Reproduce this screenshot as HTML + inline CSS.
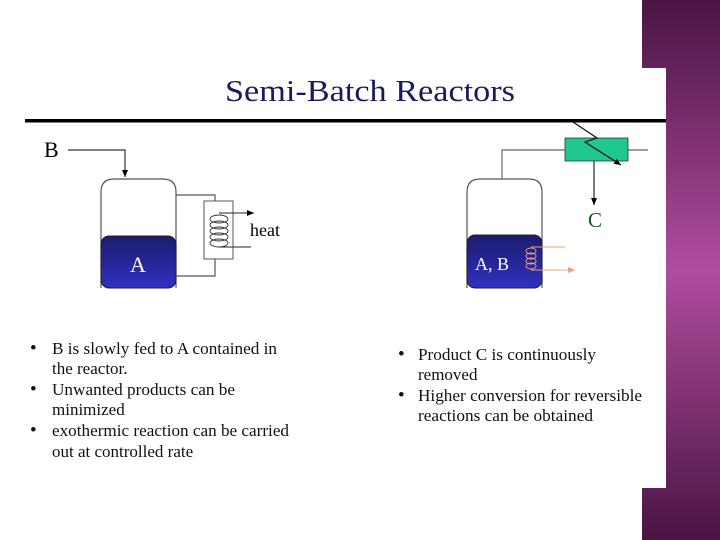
<!DOCTYPE html>
<html><head><style>
html,body{margin:0;padding:0;width:720px;height:540px;overflow:hidden;background:#fff}
svg{display:block}
text{font-family:"Liberation Serif",serif}
</style></head><body>
<svg width="720" height="540" viewBox="0 0 720 540" xmlns="http://www.w3.org/2000/svg">
<defs>
<linearGradient id="pg" x1="0" y1="0" x2="0" y2="1">
<stop offset="0" stop-color="#4a1443"/><stop offset="0.5" stop-color="#b04c9f"/><stop offset="1" stop-color="#4a1443"/>
</linearGradient>
<linearGradient id="bl" x1="0" y1="0" x2="0" y2="1">
<stop offset="0" stop-color="#1c1c6e"/><stop offset="1" stop-color="#3030c0"/>
</linearGradient>
<marker id="ar" markerWidth="8" markerHeight="8" refX="7" refY="4" orient="auto" markerUnits="userSpaceOnUse">
<path d="M0,1 L7,4 L0,7 z" fill="#000"/></marker>
<marker id="ao" markerWidth="8" markerHeight="8" refX="7" refY="4" orient="auto" markerUnits="userSpaceOnUse">
<path d="M0,1 L7,4 L0,7 z" fill="#e8a080"/></marker>
</defs>
<rect x="642" y="0" width="78" height="540" fill="url(#pg)"/>
<rect x="0" y="68" width="666" height="420" fill="#fff"/>
<rect x="0" y="0" width="642" height="68" fill="#fff"/>
<rect x="0" y="488" width="642" height="52" fill="#fff"/>
<text x="225" y="101" font-size="31" fill="#1a1a5e" textLength="290" lengthAdjust="spacingAndGlyphs">Semi-Batch Reactors</text>
<rect x="25" y="119" width="641" height="3.5" fill="#000"/>

<text x="44" y="157" font-size="22" fill="#000">B</text>
<path d="M68,150 H125 V177" fill="none" stroke="#333" stroke-width="1.2" marker-end="url(#ar)"/>
<path d="M101,288 V192 Q101,179 114,179 H163 Q176,179 176,192 V288" fill="none" stroke="#555" stroke-width="1.2"/>
<rect x="101" y="236" width="75" height="52" rx="8" fill="url(#bl)" stroke="#222" stroke-width="1"/>
<text x="130" y="272" font-size="22" fill="#fff">A</text>
<path d="M176,195 H215 V201 M176,276 H215 V259" fill="none" stroke="#555" stroke-width="1.2"/>
<rect x="204" y="201" width="29" height="58" fill="#fff" stroke="#555" stroke-width="1"/>
<g fill="none" stroke="#333" stroke-width="0.9">
<ellipse cx="219" cy="219" rx="9" ry="4"/><ellipse cx="219" cy="225" rx="9" ry="4"/>
<ellipse cx="219" cy="231" rx="9" ry="4"/><ellipse cx="219" cy="237" rx="9" ry="4"/>
<ellipse cx="219" cy="243" rx="9" ry="4"/></g>
<path d="M219,213 H254" stroke="#222" stroke-width="1" marker-end="url(#ar)"/>
<path d="M219,247 H251" stroke="#222" stroke-width="1"/>
<text x="250" y="236" font-size="18" fill="#000">heat</text>

<path d="M467,288 V192 Q467,179 480,179 H529 Q542,179 542,192 V288" fill="none" stroke="#555" stroke-width="1.2"/>
<rect x="467" y="235" width="75" height="53" rx="8" fill="url(#bl)" stroke="#222" stroke-width="1"/>
<text x="475" y="270" font-size="18" fill="#fff">A, B</text>
<g fill="none" stroke="#e8a080" stroke-width="0.9">
<ellipse cx="531" cy="251" rx="5" ry="3"/><ellipse cx="531" cy="256" rx="5" ry="3"/>
<ellipse cx="531" cy="261" rx="5" ry="3"/><ellipse cx="531" cy="266" rx="5" ry="3"/></g>
<path d="M531,247 H565" stroke="#e8a080" stroke-width="1"/>
<path d="M531,270 H575" stroke="#e8a080" stroke-width="1" marker-end="url(#ao)"/>
<path d="M502,179 V150 H565 M628,150 H648" fill="none" stroke="#666" stroke-width="1.2"/>
<rect x="565" y="138" width="63" height="23" fill="#20c890" stroke="#333" stroke-width="0.8"/>
<path d="M573,122 L597,138 L585,142 L621,165" fill="none" stroke="#111" stroke-width="1.2" marker-end="url(#ar)"/>
<path d="M594,161 V205" stroke="#333" stroke-width="1.3" marker-end="url(#ar)"/>
<text x="588" y="227" font-size="21" fill="#1a5a1a">C</text>

<g font-size="17" fill="#111">
<text x="30" y="354" font-size="19">•</text><text x="52" y="354" textLength="225" lengthAdjust="spacingAndGlyphs">B is slowly fed to A contained in</text>
<text x="52" y="374">the reactor.</text>
<text x="30" y="395" font-size="19">•</text><text x="52" y="395" textLength="183" lengthAdjust="spacingAndGlyphs">Unwanted products can be</text>
<text x="52" y="415">minimized</text>
<text x="30" y="436" font-size="19">•</text><text x="52" y="436" textLength="237" lengthAdjust="spacingAndGlyphs">exothermic reaction can be carried</text>
<text x="52" y="457">out at controlled rate</text>
<text x="398" y="360" font-size="19">•</text><text x="418" y="360" textLength="178" lengthAdjust="spacingAndGlyphs">Product C is continuously</text>
<text x="418" y="380">removed</text>
<text x="398" y="401" font-size="19">•</text><text x="418" y="401" textLength="224" lengthAdjust="spacingAndGlyphs">Higher conversion for reversible</text>
<text x="418" y="421" textLength="175" lengthAdjust="spacingAndGlyphs">reactions can be obtained</text>
</g>
</svg>
</body></html>
